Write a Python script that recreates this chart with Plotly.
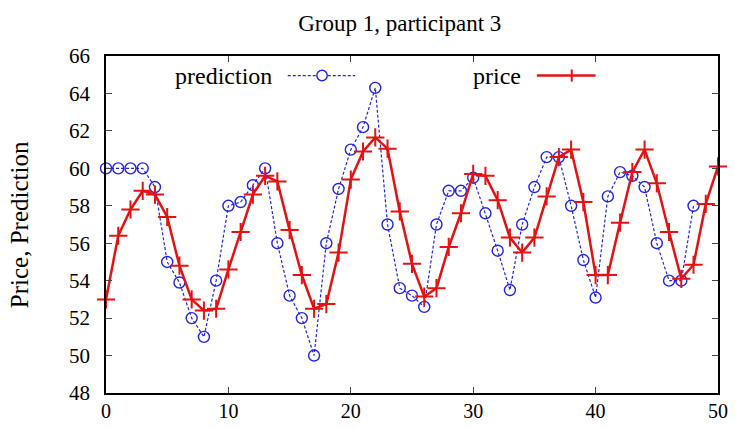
import plotly.graph_objects as go

periods = list(range(0, 51))
price = [53.0, 56.4, 57.8, 58.8, 58.6, 57.4, 54.8, 53.0, 52.4, 52.5,
         54.6, 56.6, 58.6, 59.6, 59.3, 56.7, 54.3, 52.5, 52.75, 55.5,
         59.4, 60.9, 61.65, 61.05, 57.7, 54.9, 53.15, 53.6, 55.8, 57.6,
         59.7, 59.6, 58.3, 56.3, 55.5, 56.3, 58.5, 60.6, 61.0, 58.2,
         54.3, 54.3, 57.1, 59.8, 61.0, 59.2, 56.6, 54.1, 54.85, 58.1,
         60.1]
prediction = [60.0, 60.0, 60.0, 60.0, 59.0, 55.0, 53.9, 52.0, 51.0, 54.0,
              58.0, 58.2, 59.1, 60.0, 56.0, 53.2, 52.0, 50.0, 56.0, 58.9,
              61.0, 62.2, 64.3, 57.0, 53.6, 53.2, 52.6, 57.0, 58.8, 58.8,
              59.5, 57.6, 55.6, 53.5, 57.0, 59.0, 60.6, 60.6, 58.0, 55.1,
              53.1, 58.5, 59.8, 59.6, 59.0, 56.0, 54.0, 54.0, 58.0]
x_ticks = [0, 10, 20, 30, 40, 50]
y_ticks = [48, 50, 52, 54, 56, 58, 60, 62, 64, 66]

BLUE = "rgb(35,35,230)"
RED = "rgb(228,18,18)"
FONT = "Liberation Serif"

fig = go.Figure()
fig.add_trace(go.Scatter(
    x=periods[:len(prediction)], y=prediction, mode="lines+markers",
    line=dict(color=BLUE, width=1.2, dash="3px,2px"),
    marker=dict(symbol="circle-open", size=11, color=BLUE, line=dict(width=1.4, color=BLUE)),
    cliponaxis=False, showlegend=False, name="prediction", hoverinfo="skip"))
fig.add_trace(go.Scatter(
    x=periods, y=price, mode="lines+markers",
    line=dict(color=RED, width=2.5),
    marker=dict(symbol="cross-thin-open", size=13, color=RED, line=dict(width=2, color=RED)),
    cliponaxis=False, showlegend=False, name="price", hoverinfo="skip"))

# manual gnuplot-style key (text, then line sample with marker)
key_y = 0.942
fig.add_annotation(x=0.274, y=key_y, xref="paper", yref="paper", text="prediction",
                   showarrow=False, xanchor="right", yanchor="middle",
                   font=dict(family=FONT, size=24, color="black"))
fig.add_shape(type="line", xref="paper", yref="paper", x0=0.297, x1=0.407, y0=key_y, y1=key_y,
              line=dict(color=BLUE, width=1.2, dash="3px,2px"))
fig.add_shape(type="circle", xref="paper", yref="paper",
              x0=0.353 - 0.0085, x1=0.353 + 0.0085, y0=key_y - 0.0155, y1=key_y + 0.0155,
              line=dict(color=BLUE, width=1.4), fillcolor="white")
fig.add_annotation(x=0.681, y=key_y, xref="paper", yref="paper", text="price",
                   showarrow=False, xanchor="right", yanchor="middle",
                   font=dict(family=FONT, size=24, color="black"))
fig.add_shape(type="line", xref="paper", yref="paper", x0=0.704, x1=0.80, y0=key_y, y1=key_y,
              line=dict(color=RED, width=2.5))
fig.add_shape(type="line", xref="paper", yref="paper", x0=0.761, x1=0.761,
              y0=key_y - 0.018, y1=key_y + 0.018, line=dict(color=RED, width=2))

# y-axis title
fig.add_annotation(x=-0.141, y=0.5, xref="paper", yref="paper", text="Price, Prediction",
                   textangle=-90, showarrow=False, xanchor="center", yanchor="middle",
                   font=dict(family=FONT, size=25, color="black"))

fig.update_layout(
    width=735, height=429,
    margin=dict(l=106, r=17, t=56, b=36, autoexpand=False),
    paper_bgcolor="white", plot_bgcolor="white",
    font=dict(family=FONT, size=21, color="black"),
    title=dict(text="Group 1, participant 3", x=0.48, xref="paper", xanchor="center",
               y=0.946, yref="container", yanchor="middle",
               font=dict(family=FONT, size=23, color="black")),
    xaxis=dict(range=[0, 50], tickvals=x_ticks, ticks="inside", ticklen=6, tickwidth=1,
               showline=True, linecolor="black", linewidth=1.5, mirror="ticks",
               showgrid=False, zeroline=False, tickfont=dict(family=FONT, size=20),
               ticklabelstandoff=-1, automargin=False),
    yaxis=dict(range=[48, 66], tickvals=y_ticks, ticks="inside", ticklen=6, tickwidth=1,
               showline=True, linecolor="black", linewidth=1.5, mirror="ticks",
               showgrid=False, zeroline=False, tickfont=dict(family=FONT, size=21),
               ticklabelstandoff=10, automargin=False),
)

fig.write_html("out.html", config={"displayModeBar": False},
               post_script="document.body.style.margin='0';")
